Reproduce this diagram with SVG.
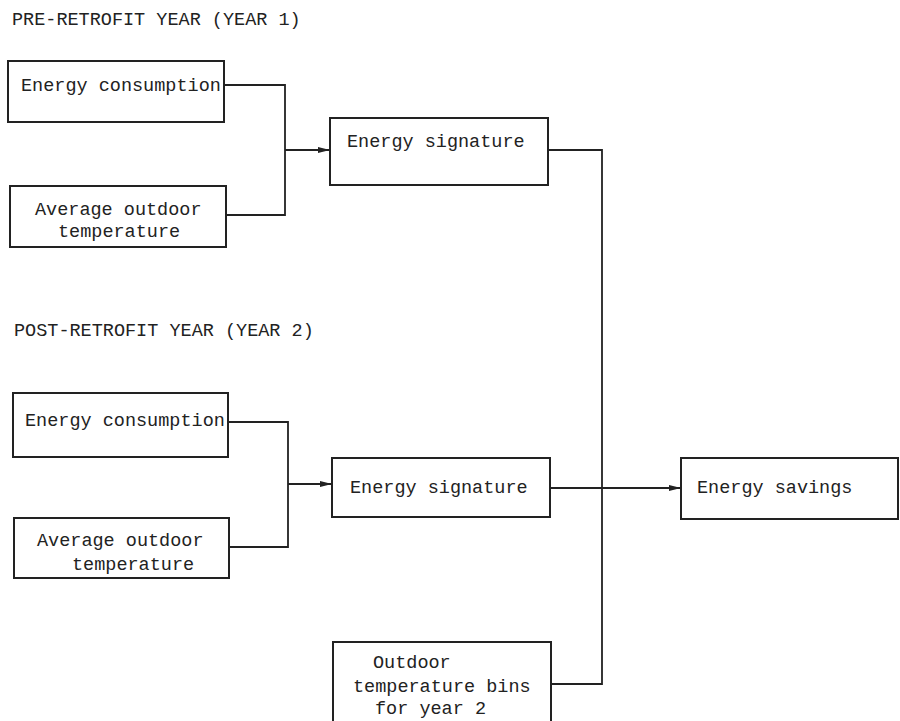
<svg xmlns="http://www.w3.org/2000/svg" width="900" height="721" viewBox="0 0 900 721">
<style>
.box{fill:#fff;stroke:#222;stroke-width:2}
.ln{fill:none;stroke:#222;stroke-width:1.8}
text{font-family:"Liberation Mono","Courier New",monospace;font-size:18.5px;fill:#222}
</style>
<defs>
<marker id="ah" viewBox="0 0 12 7" refX="12" refY="3.5" markerWidth="12" markerHeight="7" markerUnits="userSpaceOnUse" orient="auto">
<path d="M0,0.5 L12,3.5 L0,6.5 Z" fill="#222"/>
</marker>
</defs>
<rect width="900" height="721" fill="#fff"/>
<text x="12" y="25">PRE-RETROFIT YEAR (YEAR 1)</text>
<text x="14" y="336">POST-RETROFIT YEAR (YEAR 2)</text>
<g id="connectors">
<path class="ln" d="M224,85 H285 V215 H226"/>
<path class="ln" d="M285,150 H330" marker-end="url(#ah)"/>
<path class="ln" d="M548,150 H602 V684 H551"/>
<path class="ln" d="M228,422 H288 V547 H229"/>
<path class="ln" d="M288,484 H332" marker-end="url(#ah)"/>
<path class="ln" d="M550,488 H681" marker-end="url(#ah)"/>
</g>
<g id="pre-consumption"><rect class="box" x="8" y="61" width="216" height="61"/><text x="21" y="91">Energy consumption</text></g>
<g id="pre-temperature"><rect class="box" x="10" y="186" width="216" height="61"/><text x="35" y="215">Average outdoor</text><text x="58" y="237">temperature</text></g>
<g id="pre-signature"><rect class="box" x="330" y="118" width="218" height="67"/><text x="347" y="147">Energy signature</text></g>
<g id="post-consumption"><rect class="box" x="13" y="393" width="215" height="64"/><text x="25" y="426">Energy consumption</text></g>
<g id="post-temperature"><rect class="box" x="14" y="518" width="215" height="60"/><text x="37" y="546">Average outdoor</text><text x="72" y="570">temperature</text></g>
<g id="post-signature"><rect class="box" x="332" y="458" width="218" height="59"/><text x="350" y="493">Energy signature</text></g>
<g id="savings"><rect class="box" x="681" y="458" width="217" height="61"/><text x="697" y="493">Energy savings</text></g>
<g id="bins"><rect class="box" x="333" y="642" width="218" height="90"/><text x="373" y="668">Outdoor</text><text x="353" y="692">temperature bins</text><text x="375" y="714">for year 2</text></g>
</svg>
